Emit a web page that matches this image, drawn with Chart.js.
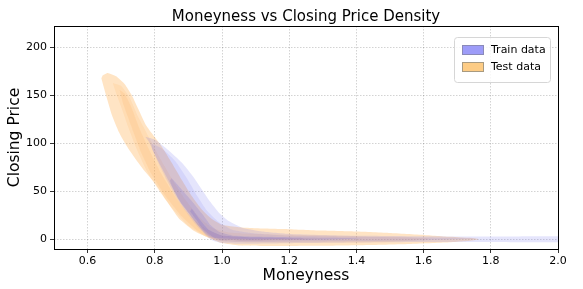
<!DOCTYPE html>
<html>
<head>
<meta charset="utf-8">
<script src="https://cdn.jsdelivr.net/npm/chart.js@4.4.0/dist/chart.umd.min.js"></script>
<style>
  html, body { margin: 0; padding: 0; background: #fff; }
  #wrap { width: 583px; height: 289px; }
</style>
</head>
<body>
<div id="wrap"><canvas id="densityChart"></canvas></div>
<script>
// density contour outlines, [moneyness, closing price]
const trainLevel1 = [[0.772,107],[0.80,104],[0.84,93],[0.88,80],[0.915,65],[0.94,52],[0.965,39],[0.99,28],[1.02,19],[1.06,12],[1.12,8],[1.2,5.5],[1.35,4],[1.6,3.2],[1.8,2.8],[2.03,2.8],
  [2.03,-2.8],[1.8,-2.8],[1.6,-3],[1.4,-3.5],[1.2,-4.2],[1.05,-4.8],[1.0,-4],[0.97,-1],[0.95,5],[0.921,18],[0.881,36],[0.855,52],[0.832,67],[0.805,85],[0.782,102]];
const trainLevel2 = [[0.79,100],[0.82,95],[0.86,82],[0.895,64],[0.925,46],[0.955,30],[0.99,18],[1.03,10],[1.1,6],[1.2,3.8],[1.4,2.6],[1.6,1.8],[1.76,1],
  [1.6,-1.2],[1.4,-1.8],[1.2,-2.6],[1.05,-3],[0.99,-1.5],[0.96,3],[0.93,12],[0.89,30],[0.86,46],[0.835,62],[0.81,80],[0.792,94]];
const trainLevel3 = [[0.85,64],[0.88,52],[0.91,40],[0.94,27],[0.965,15],[0.99,8],[1.03,4],[1.1,2.8],[1.25,1.8],[1.42,1],
  [1.3,-0.6],[1.12,-1.2],[1.0,-0.8],[0.96,4],[0.93,14],[0.9,28],[0.87,42],[0.85,56],[0.845,61]];
const trainLevel4 = [[0.91,32],[0.935,20],[0.96,10],[1.0,4],[1.1,2],[1.25,1],[1.08,-0.2],[0.98,1.5],[0.945,10],[0.92,22],[0.905,29]];

const testLevel1 = [[0.645,171],[0.66,173.5],[0.685,170],[0.71,162],[0.732,150],[0.752,135],[0.772,120],[0.79,111],[0.82,97],[0.85,80],[0.88,62],[0.91,45],[0.94,31],[0.97,21],[1.0,15],[1.05,12.5],[1.1,11.5],[1.2,10.5],[1.3,9],[1.4,8],[1.5,6.5],[1.6,4.5],[1.68,2.5],[1.75,1],[1.765,0],
  [1.74,-1.5],[1.66,-3.5],[1.56,-5],[1.45,-6],[1.3,-6.8],[1.15,-7],[1.05,-6.5],[1.0,-4],[0.97,0],[0.92,8],[0.871,22],[0.837,39],[0.797,60],[0.77,71],[0.742,84],[0.715,98],[0.693,112],[0.672,130],[0.655,150],[0.641,168]];
const testLevel2 = [[0.675,163],[0.70,160],[0.725,148],[0.75,128],[0.78,108],[0.81,88],[0.85,64],[0.89,42],[0.93,24],[0.97,12],[1.02,7],[1.1,5.5],[1.3,4],[1.5,2.5],[1.62,0.5],
  [1.5,-2.8],[1.3,-3.5],[1.1,-3.5],[1.0,-2],[0.95,3],[0.9,14],[0.85,33],[0.81,52],[0.775,72],[0.745,95],[0.72,118],[0.70,138],[0.685,152]];
const testLevel3 = [[0.695,156],[0.71,152],[0.73,138],[0.755,115],[0.785,92],[0.82,68],[0.86,45],[0.9,26],[0.95,11],[1.0,4],[1.1,1.5],[1.3,0.6],
  [1.1,-1.5],[0.98,-0.5],[0.93,8],[0.88,24],[0.83,46],[0.79,68],[0.76,90],[0.73,118],[0.705,142]];

const xTicks = [0.6, 0.8, 1.0, 1.2, 1.4, 1.6, 1.8, 2.0];
const yTicks = [0, 50, 100, 150, 200];

const trainFills = ['rgba(95,95,235,0.16)', 'rgba(95,95,235,0.12)', 'rgba(90,80,200,0.16)', 'rgba(90,80,200,0.18)'];
const testFills = ['rgba(255,165,60,0.30)', 'rgba(255,160,50,0.12)', 'rgba(250,150,50,0.12)'];

function contour(points, color) {
  return {
    data: points.map(p => ({ x: p[0], y: p[1] })),
    showLine: true,
    fill: 'shape',
    backgroundColor: color,
    borderWidth: 0,
    borderColor: 'rgba(0,0,0,0)',
    pointRadius: 0,
    pointHoverRadius: 0,
    tension: 0.15
  };
}

const frameAndLegend = {
  id: 'frameAndLegend',
  afterDraw(chart) {
    const { ctx, chartArea: a } = chart;
    ctx.save();
    ctx.strokeStyle = '#000';
    ctx.lineWidth = 1;
    ctx.strokeRect(Math.round(a.left) + 0.5, Math.round(a.top) + 0.5,
      Math.round(a.right - a.left), Math.round(a.bottom - a.top));

    // title, centred over the axes
    ctx.fillStyle = '#000';
    ctx.font = '15px "DejaVu Sans"';
    ctx.textAlign = 'center';
    ctx.textBaseline = 'alphabetic';
    ctx.fillText('Moneyness vs Closing Price Density', (a.left + a.right) / 2, 21);

    // legend box, top right inside the axes
    const bx = a.right - 104, by = a.top + 11, bw = 96, bh = 45;
    ctx.fillStyle = 'rgba(255,255,255,0.8)';
    ctx.strokeStyle = '#d6d6d6';
    ctx.beginPath();
    ctx.roundRect(bx + 0.5, by + 0.5, bw, bh, 3);
    ctx.fill();
    ctx.stroke();
    const items = [['Train data', '#9d9cf8', '#8a8ab8'], ['Test data', '#fdcc85', '#a89a80']];
    ctx.font = '11px "DejaVu Sans"';
    ctx.textAlign = 'left';
    ctx.textBaseline = 'middle';
    items.forEach((it, i) => {
      const y = by + 13 + i * 17;
      ctx.fillStyle = it[1];
      ctx.strokeStyle = it[2];
      ctx.fillRect(bx + 8, y - 5, 22, 10);
      ctx.strokeRect(bx + 8.5, y - 4.5, 21, 9);
      ctx.fillStyle = '#000';
      ctx.fillText(it[0], bx + 37, y);
    });
    ctx.restore();
  }
};

const gridStyle = {
  color: 'rgba(0,0,0,0.22)',
  lineWidth: 0.8,
  tickBorderDash: [],
  tickColor: '#000',
  tickLength: 4,
  drawTicks: true
};

new Chart(document.getElementById('densityChart'), {
  type: 'scatter',
  data: {
    datasets: [
      contour(trainLevel1, trainFills[0]),
      contour(trainLevel2, trainFills[1]),
      contour(trainLevel3, trainFills[2]),
      contour(trainLevel4, trainFills[3]),
      contour(testLevel1, testFills[0]),
      contour(testLevel2, testFills[1]),
      contour(testLevel3, testFills[2])
    ]
  },
  options: {
    responsive: true,
    maintainAspectRatio: false,
    animation: false,
    layout: { padding: { left: 0, right: 25, top: 26, bottom: 0 } },
    plugins: {
      legend: { display: false },
      tooltip: { enabled: false },
      title: { display: false }
    },
    scales: {
      x: {
        type: 'linear',
        min: 0.5,
        max: 2.0,
        afterBuildTicks: s => { s.ticks = xTicks.map(v => ({ value: v })); },
        afterFit: s => { s.height = 40; },
        grid: gridStyle,
        border: { display: false, dash: [1.5, 1.5] },
        ticks: {
          color: '#000',
          padding: 2,
          font: { family: 'DejaVu Sans', size: 11 },
          callback: v => v.toFixed(1)
        },
        title: {
          display: true,
          text: 'Moneyness',
          color: '#000',
          padding: { top: 0, bottom: 4 },
          font: { family: 'DejaVu Sans', size: 15.5 }
        }
      },
      y: {
        type: 'linear',
        min: -10.2,
        max: 222.5,
        afterBuildTicks: s => { s.ticks = yTicks.map(v => ({ value: v })); },
        afterFit: s => { s.width = 54; },
        grid: gridStyle,
        border: { display: false, dash: [1.5, 1.5] },
        ticks: {
          color: '#000',
          padding: 3,
          font: { family: 'DejaVu Sans', size: 11 }
        },
        title: {
          display: true,
          text: 'Closing Price',
          color: '#000',
          padding: { top: 6, bottom: 2 },
          font: { family: 'DejaVu Sans', size: 15.5 }
        }
      }
    }
  },
  plugins: [frameAndLegend]
});
</script>
</body>
</html>
